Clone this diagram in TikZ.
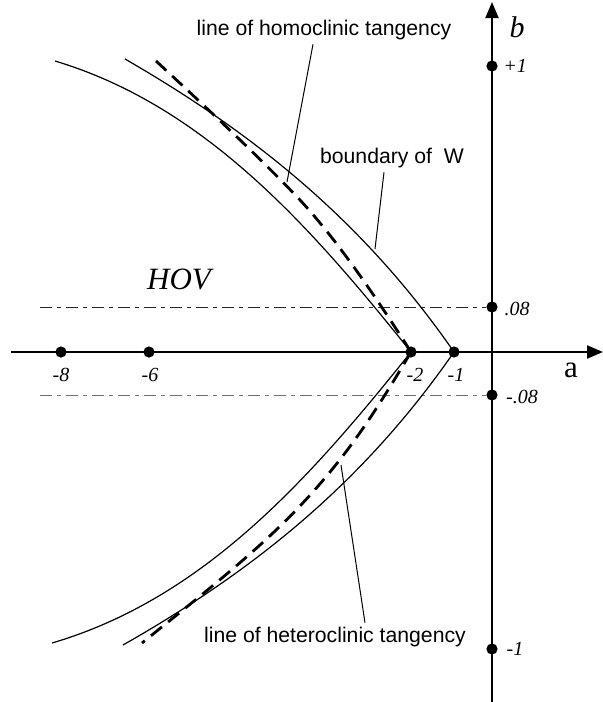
\documentclass[tikz,border=0pt]{standalone}
\usepackage{fontspec}
\setmainfont{Liberation Serif}
\newfontfamily\labelfont{Liberation Sans}
\usetikzlibrary{arrows.meta}

\tikzset{
  axis/.style={line width=1.1pt,-{Triangle[length=8pt,width=6.5pt]}},
  dot/.style={circle,fill,inner sep=0pt,minimum size=5.6pt},
  curve/.style={line width=0.6pt},
  tangency/.style={line width=1.4pt,dash pattern=on 7pt off 4pt},
  level/.style={line width=0.5pt,dash pattern=on 6pt off 2.5pt on 2pt off 2.5pt},
  tick/.style={font=\fontsize{10}{12}\selectfont\itshape},
  caption/.style={font=\fontsize{10.6}{13}\selectfont\labelfont,inner sep=2pt},
  leader/.style={line width=0.5pt}
}

\begin{document}
\begin{tikzpicture}[x=0.5pt,y=-0.5pt]
\useasboundingbox (0,0) rectangle (603,702);

% Points on the axes
\node[dot] (am8) at (61,352) {};
\node[dot] (am6) at (149,352) {};
\node[dot] (am2) at (411,352) {};
\node[dot] (am1) at (454,352) {};
\node[dot] (bp1) at (492,66) {};
\node[dot] (bp08) at (492,307) {};
\node[dot] (bm08) at (492,395) {};
\node[dot] (bm1) at (492,649) {};

% Levels b = +-.08
\draw[level,black!85] (40,307) -- (bp08);
\draw[level,black!55] (40,395) -- (bm08);

% Axes
\draw[axis] (11,352) -- (603,352);
\draw[axis] (492,702) -- (492,2);
\node[font=\fontsize{15.5}{18}\selectfont] (alabel) at (571,370) {a};
\node[font=\fontsize{15}{17}\selectfont\itshape] (blabel) at (517,27) {b};

% Boundary of W
\draw[curve] (55,61) .. controls (205,106) and (311,227) .. (411,352)
  .. controls (311,477) and (205,598) .. (52,643);
\draw[curve] (125,59) .. controls (255,134) and (364,222) .. (454,352)
  .. controls (364,482) and (255,570) .. (123,645);

% Homoclinic tangency
\draw[tangency] (156,61) .. controls (220,120) and (270,168) .. (300,200)
  .. controls (340,243) and (383,308) .. (411,352);

% Heteroclinic tangency
\draw[tangency] (411,352) .. controls (372,418) and (345,458) .. (300,506)
  .. controls (255,554) and (190,604) .. (142,643);

% Tick labels
\node[tick] at (61,375) {-8};
\node[tick] at (150,375) {-6};
\node[tick] at (415,375) {-2};
\node[tick] at (456,375) {-1};
\node[tick] at (515,66) {+1};
\node[tick] at (517,309) {.08};
\node[tick] at (522,397) {-.08};
\node[tick] at (515,649) {-1};

\node[font=\fontsize{15.5}{18}\selectfont\itshape] (hov) at (179,279) {HOV};

% Labels with leaders
\node[caption] (homo) at (324,30) {line of homoclinic tangency};
\node[caption] (bound) at (392,158) {boundary of\ \ W};
\node[caption] (hetero) at (335,637) {line of heteroclinic tangency};
\coordinate (homotip) at (287,182);
\coordinate (boundtip) at (375,249);
\coordinate (heterotip) at (341,465);
\draw[leader] ([xshift=-5.5pt]homo.south) -- (homotip);
\draw[leader] ([xshift=-4pt]bound.south) -- (boundtip);
\draw[leader] ([xshift=15pt]hetero.north) -- (heterotip);

\end{tikzpicture}
\end{document}
